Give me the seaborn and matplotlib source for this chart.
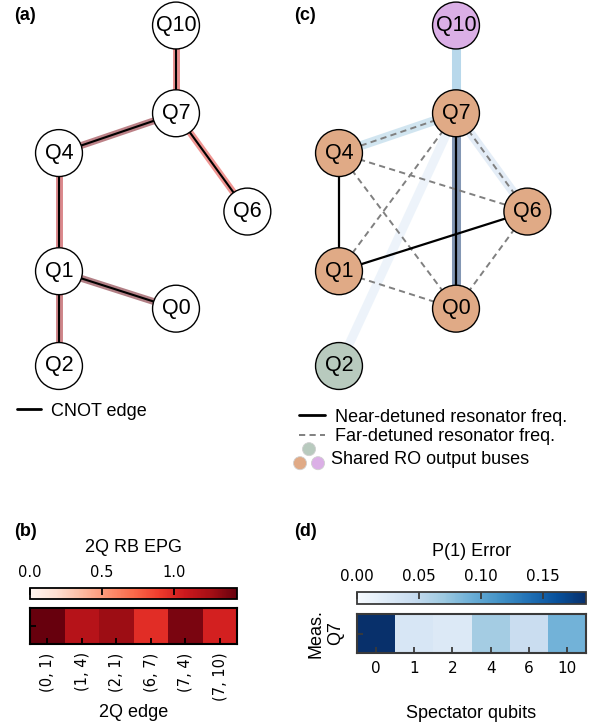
import numpy as np
import pandas as pd
import matplotlib
matplotlib.use("Agg")
import matplotlib.pyplot as plt
import seaborn as sns
from matplotlib.lines import Line2D
from matplotlib.legend_handler import HandlerBase
from matplotlib.patches import Circle
from matplotlib.colors import Normalize

sns.set_style("white")
plt.rcParams["font.family"] = ["Liberation Sans", "DejaVu Sans"]
plt.rcParams.update({"text.color": "black", "axes.labelcolor": "black",
                     "xtick.color": "black", "ytick.color": "black"})

# ---------------- data ----------------
qubit_ids = [0, 1, 2, 4, 6, 7, 10]
node_x = [1.0, 0.0, 0.0, 0.0, 1.61, 1.0, 1.0]
node_y = [0.49, 0.81, 0.0, 1.82, 1.32, 2.16, 2.91]

cnot_edges = [(0, 1), (1, 4), (2, 1), (6, 7), (7, 4), (7, 10)]
cnot_labels = ["(0, 1)", "(1, 4)", "(2, 1)", "(6, 7)", "(7, 4)", "(7, 10)"]
epg = [1.44, 1.18, 1.28, 0.97, 1.38, 1.04]

near_edges = [(4, 1), (1, 6), (7, 0)]
far_edges = [(7, 4), (7, 6), (7, 1), (4, 6), (4, 0), (1, 0), (6, 0)]
measured_qubit = 7
spectators = [0, 1, 2, 4, 6, 10]
p1_error = [0.185, 0.030, 0.026, 0.066, 0.043, 0.089]
spectator_edges_shown = [10, 4, 6, 2, 0]
bus_of_qubit = {0: "orange", 1: "orange", 4: "orange", 6: "orange", 7: "orange",
                2: "green", 10: "violet"}
bus_colors = {"orange": "#e0aa86", "green": "#b8cabe", "violet": "#dbafe6"}

# ---------------- figure ----------------
W, H = 596, 726
fig = plt.figure(figsize=(W / 100, H / 100), dpi=100)


def add_ax(l, t, w, h):
    return fig.add_axes([l / W, 1 - (t + h) / H, w / W, h / H])


idx = {q: i for i, q in enumerate(qubit_ids)}
SCALE = 117.0  # pixels per layout unit


def graph_axes(l, w, ox):
    ax = add_ax(l, 0, w, 395)
    ax.set_xlim((l - ox) / SCALE, (l + w - ox) / SCALE)
    ax.set_ylim((366 - 395) / SCALE, 366 / SCALE)
    ax.axis("off")
    return ax


def seg(a, b):
    return [node_x[idx[a]], node_x[idx[b]]], [node_y[idx[a]], node_y[idx[b]]]


def draw_nodes(ax, colors):
    df = pd.DataFrame({"x": node_x, "y": node_y, "q": [f"Q{q}" for q in qubit_ids]})
    sns.scatterplot(data=df, x="x", y="y", ax=ax, s=1140, c=colors,
                    edgecolor="black", linewidth=1.0, zorder=5, legend=False)
    for xx, yy, name in zip(df.x, df.y, df.q):
        ax.text(xx, yy, name, ha="center", va="center", fontsize=15.5, zorder=6)
    ax.set_xlabel("")
    ax.set_ylabel("")


# ---- panel (a)
axa = graph_axes(0, 290, 59)
norm_r = Normalize(0, max(epg))
reds = plt.get_cmap("Reds")
for (a, b), v in zip(cnot_edges, epg):
    xs, ys = seg(a, b)
    axa.plot(xs, ys, color=reds(norm_r(v)), alpha=0.5, lw=5.0,
             solid_capstyle="butt", zorder=1)
    axa.plot(xs, ys, color="black", lw=1.5, zorder=2)
draw_nodes(axa, ["white"] * len(qubit_ids))
axa.legend(handles=[Line2D([], [], color="black", lw=2)], labels=["CNOT edge"],
           loc="center left", bbox_to_anchor=(17 / W, 1 - 411 / H),
           bbox_transform=fig.transFigure, frameon=False, fontsize=13,
           handlelength=1.35, handletextpad=0.55, borderpad=0, borderaxespad=0)
fig.text(14 / W, 1 - 15 / H, "(a)", fontsize=13, fontweight="bold", va="center")

# ---- panel (c)
axc = graph_axes(290, 306, 339)
norm_b = Normalize(0, max(p1_error))
blues = plt.get_cmap("Blues")
err_of = dict(zip(spectators, p1_error))
for q in spectator_edges_shown:
    xs, ys = seg(measured_qubit, q)
    axc.plot(xs, ys, color=blues(norm_b(err_of[q])), alpha=0.5, lw=6.5,
             solid_capstyle="butt", zorder=1)
for a, b in far_edges:
    xs, ys = seg(a, b)
    axc.plot(xs, ys, color="#808080", lw=1.4, dashes=(3.2, 2.2), zorder=2)
for a, b in near_edges:
    xs, ys = seg(a, b)
    axc.plot(xs, ys, color="black", lw=1.6, zorder=3)
draw_nodes(axc, [bus_colors[bus_of_qubit[q]] for q in qubit_ids])


class BusHandler(HandlerBase):
    def create_artists(self, legend, orig_handle, xdescent, ydescent,
                       width, height, fontsize, trans):
        r = 4.7
        yc = height / 2 - ydescent
        arts = []
        for (cx, cy, key) in [(r, yc - 3.6, "orange"), (width - r, yc - 3.6, "violet"),
                              (width / 2, yc + 6.5, "green")]:
            c = Circle((cx - xdescent, cy), r, facecolor=bus_colors[key],
                       edgecolor="#d0d0d0", lw=0.6, transform=trans)
            arts.append(c)
        return arts


leg1 = axc.legend(handles=[Line2D([], [], color="black", lw=2),
                           Line2D([], [], color="#808080", lw=1.4, dashes=(3.2, 2.2))],
                  labels=["Near-detuned resonator freq.", "Far-detuned resonator freq."],
                  loc="center left", bbox_to_anchor=(299 / W, 1 - 427 / H),
                  bbox_transform=fig.transFigure, frameon=False, fontsize=13,
                  handlelength=1.45, handletextpad=0.55, borderpad=0,
                  borderaxespad=0, labelspacing=0.15)
axc.add_artist(leg1)
bus_handle = Line2D([], [])
axc.legend(handles=[bus_handle], labels=["Shared RO output buses"],
           handler_map={bus_handle: BusHandler()},
           loc="center left", bbox_to_anchor=(293.5 / W, 1 - 460 / H),
           bbox_transform=fig.transFigure, frameon=False, fontsize=13,
           handlelength=1.72, handletextpad=0.36, borderpad=0, borderaxespad=0)
fig.text(294 / W, 1 - 15 / H, "(c)", fontsize=13, fontweight="bold", va="center")


# ---------------- heatmaps ----------------
def style_heatmap(ax, cax, cb, edge, ticks, fmt, cb_label, tick_fs):
    ax.set_axisbelow(False)
    cax.set_axisbelow(False)
    for s in ax.spines.values():
        s.set_visible(True)
        s.set_color(edge)
        s.set_linewidth(1.5)
    ax.set_yticks([0.5])
    ax.set_yticklabels([""])
    ax.tick_params(axis="both", direction="in", length=4.5, width=1.3, color=edge,
                   left=True, bottom=True, labelfontfamily="DejaVu Sans",
                   labelcolor="black")
    cb.outline.set_linewidth(1.3)
    cb.outline.set_edgecolor(edge)
    cax.xaxis.set_ticks_position("top")
    cax.xaxis.set_label_position("top")
    cb.set_ticks(ticks)
    cb.set_ticklabels([fmt % t for t in ticks])
    cax.tick_params(direction="in", length=5, width=1.3, color=edge, pad=6,
                    labelsize=tick_fs, labelfontfamily="DejaVu Sans", top=True,
                    bottom=False, labelcolor="black")
    cb.set_label(cb_label, fontsize=13, labelpad=9)


# ---- panel (b)
axb = add_ax(30, 608, 207, 36)
caxb = add_ax(30, 588, 207, 11)
dfb = pd.DataFrame([epg], columns=cnot_labels)
sns.heatmap(dfb, ax=axb, cmap="Reds", vmin=0, vmax=max(epg), cbar_ax=caxb,
            cbar_kws={"orientation": "horizontal"})
cbb = axb.collections[0].colorbar
style_heatmap(axb, caxb, cbb, "black", [0.0, 0.5, 1.0], "%.1f", "2Q RB EPG", 10.5)
axb.set_xticklabels(cnot_labels, rotation=90, fontsize=10.5)
axb.tick_params(axis="x", pad=6)
axb.set_xlabel("2Q edge", fontsize=13, labelpad=2)
axb.set_ylabel("")
fig.text(14 / W, 1 - 532 / H, "(b)", fontsize=13, fontweight="bold", va="center")

# ---- panel (d)
axd = add_ax(357, 614, 229, 39)
caxd = add_ax(357, 592, 229, 12)
dfd = pd.DataFrame([p1_error], columns=[str(s) for s in spectators])
sns.heatmap(dfd, ax=axd, cmap="Blues", vmin=0, vmax=max(p1_error), cbar_ax=caxd,
            cbar_kws={"orientation": "horizontal"})
cbd = axd.collections[0].colorbar
style_heatmap(axd, caxd, cbd, "#3a3a3a", [0.0, 0.05, 0.10, 0.15], "%.2f",
              "P(1) Error", 11)
axd.set_xticklabels([str(s) for s in spectators], rotation=0, fontsize=11)
axd.tick_params(axis="x", pad=6)
axd.set_xlabel("Spectator qubits", fontsize=13, labelpad=21)
axd.set_ylabel("Meas.\nQ7", fontsize=13, labelpad=6)
fig.text(294 / W, 1 - 532 / H, "(d)", fontsize=13, fontweight="bold", va="center")

fig.savefig("out.png", dpi=100)
